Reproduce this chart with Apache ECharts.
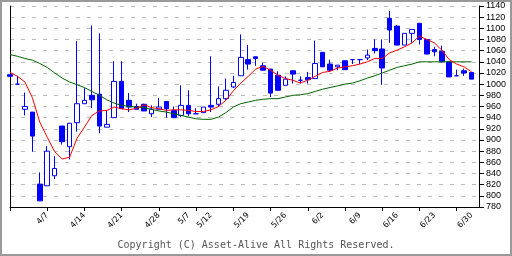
<!DOCTYPE html>
<html>
<head>
<meta charset="utf-8">
<script src="https://cdn.jsdelivr.net/npm/echarts@6/dist/echarts.min.js"></script>
<style>
html,body{margin:0;padding:0;background:#fff;}
#c{width:512px;height:256px;}
</style>
</head>
<body>
<div id="c"></div>
<script>
const dates = ['3/31','4/1','4/2','4/3','4/4','4/7','4/8','4/9','4/10','4/11',
  '4/14','4/15','4/16','4/17','4/18','4/21','4/22','4/23','4/24','4/25',
  '4/28','4/30','5/1','5/2','5/7','5/8','5/9','5/12','5/13','5/14',
  '5/15','5/16','5/19','5/20','5/21','5/22','5/23','5/26','5/27','5/28',
  '5/29','5/30','6/2','6/3','6/4','6/5','6/6','6/9','6/10','6/11',
  '6/12','6/13','6/16','6/17','6/18','6/19','6/20','6/23','6/24','6/25',
  '6/26','6/27','6/30'];
const labelDates = ['4/7','4/14','4/21','4/28','5/7','5/12','5/19','5/26','6/2','6/9','6/16','6/23','6/30'];
const yTicks = {min: 780, max: 1140, step: 20};

const openV  = [1017,1000,955,950,821,818,836,925,888,931,
  965,980,982,923,940,1005,971,960,964,947,
  955,969,953,944,962,947,949,962,964,974,
  995,1015,1044,1049,1033,1027,1016,998,1024,1007,
  1012,1010,1057,1036,1031,1042,1044,1044,1047,1064,
  1063,1118,1104,1070,1091,1109,1080,1062,1059,1040,
  1015,1024,1021];
const closeV = [1014,1000,960,907,791,880,849,897,930,965,
  971,972,925,928,1005,956,959,955,952,955,
  959,956,940,962,947,947,959,959,974,989,
  1003,1048,1036,1046,1025,984,989,1009,1018,1007,
  1008,1037,1031,1025,1034,1026,1044,1044,1052,1060,
  1029,1097,1070,1091,1098,1080,1054,1058,1040,1013,
  1015,1020,1009];
const lowV   = [1013,1000,944,879,791,818,830,892,865,915,
  965,957,912,923,940,956,950,955,952,941,
  955,940,940,941,943,947,949,950,959,972,
  993,1015,1026,1033,1025,977,989,998,1001,1001,
  1001,1010,1031,1022,1025,1026,1036,1036,1043,1055,
  999,1074,1070,1070,1074,1071,1054,1050,1040,1013,
  1015,1015,1009];
const highV  = [1018,1015,985,950,842,889,871,925,930,1077,
  993,1105,1091,953,1041,1041,984,965,965,962,
  975,969,960,998,989,957,959,1050,996,1010,
  1015,1089,1070,1049,1039,1027,1023,1014,1024,1014,
  1022,1078,1057,1044,1034,1042,1044,1044,1062,1080,
  1080,1131,1106,1091,1098,1109,1080,1067,1069,1040,
  1026,1028,1021];
const maShort = [1021,1014,1004,976,932,905,879,866,869,903,
  923,944,952,953,959,956,954,957,963,958,
  956,953,954,954,953,951,951,954,960,971,
  988,1002,1014,1027,1032,1025,1016,1010,1007,1002,
  1007,1014,1021,1023,1029,1031,1033,1036,1040,1046,
  1046,1056,1061,1067,1074,1086,1080,1074,1061,1044,
  1036,1031,1022];
const maLong = [1053,1050,1046,1043,1037,1030,1020,1011,1004,999,
  994,987,980,972,966,962,960,959,958,955,
  952,950,947,944,941,938,937,937,941,949,
  959,965,968,971,973,974,974,977,980,981,
  983,987,991,994,997,1000,1002,1006,1011,1015,
  1020,1025,1030,1033,1036,1040,1040,1040,1040,1040,
  1040,1040,1040];

const candles = openV.map((o, i) => [o, closeV[i], lowV[i], highV[i]]);
const cats = dates.concat(['']);

const chart = echarts.init(document.getElementById('c'), null, {renderer: 'canvas'});
chart.setOption({
  animation: false,
  backgroundColor: '#ffffff',
  grid: {left: 10, right: 33, top: 6, bottom: 49},
  xAxis: {
    type: 'category',
    data: cats,
    boundaryGap: false,
    axisLine: {onZero: false, lineStyle: {color: '#000', width: 1}},
    axisTick: {interval: function (i) { return i % 5 === 0; }, length: 4, lineStyle: {color: '#000'}},
    axisLabel: {
      interval: function (i, v) { return labelDates.indexOf(v) >= 0; },
      rotate: 45, fontSize: 8, color: '#000', margin: 7, fontFamily: 'DejaVu Sans'
    },
    splitLine: {show: false}
  },
  yAxis: [{
    type: 'value', position: 'right',
    min: yTicks.min, max: yTicks.max, interval: yTicks.step,
    axisLine: {show: true, lineStyle: {color: '#000'}},
    axisTick: {show: true, length: 5, lineStyle: {color: '#000'}},
    axisLabel: {fontSize: 9, color: '#000', margin: 7, fontFamily: 'Liberation Sans',
      formatter: function (v) { return String(v); }},
    splitLine: {show: true, lineStyle: {color: '#bdbdbd', type: [4, 7], width: 1}}
  }, {
    type: 'value', position: 'left',
    min: yTicks.min, max: yTicks.max,
    axisLine: {show: true, lineStyle: {color: '#000'}},
    axisTick: {show: false}, axisLabel: {show: false}, splitLine: {show: false}
  }],
  series: [{
    type: 'candlestick',
    data: candles,
    barWidth: 5,
    itemStyle: {color: '#ffffff', color0: '#0000ff', borderColor: '#0000ff', borderColor0: '#0000ff', borderWidth: 1}
  }, {
    type: 'line', data: maLong, symbol: 'none', smooth: false,
    lineStyle: {color: '#006400', width: 1}
  }, {
    type: 'line', data: maShort, symbol: 'none', smooth: false,
    lineStyle: {color: '#ff0000', width: 1}
  }],
  graphic: [{
    type: 'rect', shape: {x: 1, y: 1, width: 510, height: 254},
    style: {fill: 'none', stroke: '#999999', lineWidth: 2}, silent: true
  }, {
    type: 'text', left: 'center', top: 240,
    style: {text: 'Copyright (C) Asset-Alive All Rights Reserved.', font: '10px "DejaVu Sans Mono"', fill: '#555555'}
  }]
});
</script>
</body>
</html>
